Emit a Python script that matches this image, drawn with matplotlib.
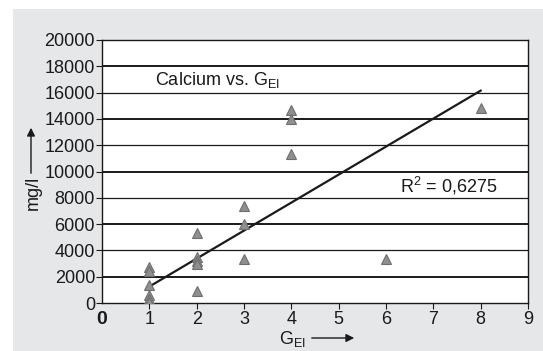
import matplotlib
matplotlib.use("Agg")
import matplotlib.pyplot as plt
from matplotlib.patches import Rectangle

plt.rcParams['font.family'] = ['Liberation Sans', 'DejaVu Sans']

# data
g_el = [1, 1, 1, 1, 1, 1, 2, 2, 2, 2, 2, 3, 3, 3, 4, 4, 4, 6, 8]
calcium = [2700, 2400, 1400, 600, 300, 100,
           5300, 3500, 3200, 3000, 900,
           7400, 6000, 3350,
           14700, 14000, 11300,
           3350, 14850]
trend_x = [1, 8]
trend_y = [1250, 16150]
y_ticks = list(range(0, 20001, 2000))
x_ticks = list(range(1, 10))

fig = plt.figure(figsize=(5.43, 3.51), dpi=100)

# grey panel behind the chart
fig.patches.append(Rectangle((13 / 543, 0), 1, 1 - 9 / 351, transform=fig.transFigure,
                             facecolor='#e6e7e8', edgecolor='none', zorder=-10))

ax = fig.add_axes([102 / 543, 1 - 303 / 351, 426 / 543, 263 / 351])
ax.set_facecolor('white')
ax.set_xlim(0, 9)
ax.set_ylim(0, 20000)

# horizontal grid, alternating weights as in the original
for i, v in enumerate(y_ticks[1:-1]):
    ax.axhline(v, color='#1a1a1a', lw=1.4 if i % 2 == 0 else 0.9, zorder=1)

ax.plot(trend_x, trend_y, color='#1a1a1a', lw=1.6, zorder=3)
ax.plot(g_el, calcium, linestyle='none', marker='^', markersize=7.5,
        markerfacecolor='#8f8f8f', markeredgecolor='#6e6e6e', markeredgewidth=0.8, zorder=4)

for s in ax.spines.values():
    s.set_color('#1a1a1a')
    s.set_linewidth(1.0)

ax.set_yticks(y_ticks)
ax.set_xticks(x_ticks)
ax.tick_params(axis='both', labelsize=13, color='#1a1a1a', labelcolor='#1a1a1a',
               length=4, width=0.8)
ax.tick_params(axis='x', pad=2)
ax.tick_params(axis='y', pad=1)
ax.text(0, -0.03, '0', transform=ax.get_xaxis_transform(), ha='center', va='top',
        fontsize=14, fontweight='bold', color='#1a1a1a')

ax.text(1.13, 16950, r'Calcium vs. G$_{\mathregular{EI}}$', fontsize=13, va='center', color='#1a1a1a')
ax.text(6.3, 8900, r'R$^{\mathregular{2}}$ = 0,6275', fontsize=13, va='center', color='#1a1a1a')

# axis labels with arrows
fig.text(279 / 543, 1 - 339 / 351, r'G$_{\mathregular{EI}}$', fontsize=13, ha='left', va='center',
         color='#1a1a1a')
fig.text(33 / 543, 1 - 193 / 351, 'mg/l', fontsize=13, rotation=90, ha='center', va='center',
         color='#1a1a1a')
arrow_style = dict(arrowstyle='-|>', color='#1a1a1a', lw=1.0, mutation_scale=12)
plt.annotate('', xy=(357 / 543, 1 - 338 / 351), xytext=(309 / 543, 1 - 338 / 351),
             xycoords='figure fraction', arrowprops=arrow_style)
plt.annotate('', xy=(31 / 543, 1 - 125 / 351), xytext=(31 / 543, 1 - 176 / 351),
             xycoords='figure fraction', arrowprops=arrow_style)

fig.savefig('out.png', dpi=100)
